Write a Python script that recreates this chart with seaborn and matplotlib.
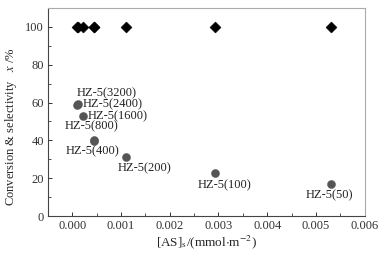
import numpy as np
import pandas as pd
import seaborn as sns
import matplotlib.pyplot as plt
from matplotlib.ticker import MultipleLocator

# sample names, acid site density and conversion
samples = ['HZ-5(3200)', 'HZ-5(2400)', 'HZ-5(1600)', 'HZ-5(800)',
           'HZ-5(400)', 'HZ-5(200)', 'HZ-5(100)', 'HZ-5(50)']
as_density = [0.000086, 0.000117, 0.000214, 0.00044, 0.000446, 0.0011, 0.00293, 0.00531]
conversion = [58.5, 59.0, 53.0, 40.1, 39.9, 31.4, 22.6, 16.8]
selectivity = [100, 100, 100, 100, 100, 100, 100, 100]

df = pd.DataFrame({'sample': samples, 'AS': as_density,
                   'conv': conversion, 'sel': selectivity})

sns.set_style('ticks')
plt.rcParams['font.family'] = ['Liberation Serif', 'DejaVu Serif']
plt.rcParams['mathtext.fontset'] = 'stix'

fig = plt.figure(figsize=(3.87, 2.56), dpi=100)
ax = fig.add_axes([0.124, 0.156, 0.818, 0.813])

sns.scatterplot(data=df, x='AS', y='sel', marker='D', color='black',
                s=32, edgecolor='black', linewidth=0.3, ax=ax, zorder=3)
sns.scatterplot(data=df, x='AS', y='conv', marker='o', color='#555555',
                s=34, edgecolor='#555555', linewidth=0.3, ax=ax, zorder=3)

# label offsets in pixels (dx, dy, ha)
offsets = {
    'HZ-5(3200)': (30, 12, 'center'),
    'HZ-5(2400)': (5, 0, 'left'),
    'HZ-5(1600)': (5, 0, 'left'),
    'HZ-5(800)': (-2, 14, 'center'),
    'HZ-5(400)': (-2, -11, 'center'),
    'HZ-5(200)': (19, -12, 'center'),
    'HZ-5(100)': (10, -12, 'center'),
    'HZ-5(50)': (-2, -11, 'center'),
}
for name, xv, yv in zip(samples, as_density, conversion):
    dx, dy, ha = offsets[name]
    ax.annotate(name, (xv, yv), xytext=(dx, dy), textcoords='offset pixels',
                ha=ha, va='center', fontsize=9, color='#222222')

ax.set_xlim(-0.0005, 0.006)
ax.set_ylim(0, 110)
ax.xaxis.set_minor_locator(MultipleLocator(0.0005))
ax.yaxis.set_major_locator(MultipleLocator(20))
ax.yaxis.set_minor_locator(MultipleLocator(10))
xt = np.arange(0, 0.0061, 0.001)
ax.set_xticks(xt)
ax.set_xticklabels([f'{v:.3f}' for v in xt])
ax.tick_params(which='both', direction='in', top=False, right=False,
               labelsize=9, colors='#333333', pad=3)
ax.tick_params(which='major', length=3, width=0.7)
ax.tick_params(which='minor', length=2, width=0.6)

for side in ['left', 'bottom']:
    ax.spines[side].set_color('#444444')
    ax.spines[side].set_linewidth(0.8)
for side in ['top', 'right']:
    ax.spines[side].set_visible(True)
    ax.spines[side].set_color('#aaaaaa')
    ax.spines[side].set_linewidth(0.8)

ax.set_xlabel(r'[AS]$_\mathrm{s}$/(mmol$\cdot$m$^{-2}$)', fontsize=9.5, labelpad=1)
ax.set_ylabel(r'Conversion & selectivity   $x$ /%', fontsize=9)
ax.yaxis.set_label_coords(-0.09, 0.43)

fig.savefig('out.png', dpi=100)
